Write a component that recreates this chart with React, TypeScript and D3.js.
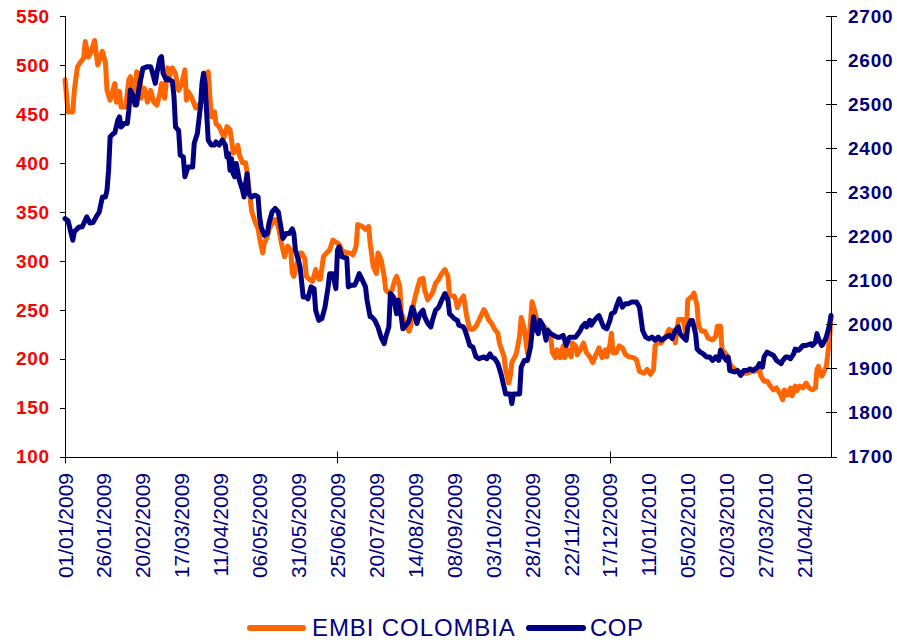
import React from 'react';
import * as d3 from 'd3';

const START_DATE = '01/01/2009';
const END_DAY = 492;

const X_LABELS = [
  '01/01/2009', '26/01/2009', '20/02/2009', '17/03/2009', '11/04/2009', '06/05/2009', '31/05/2009',
  '25/06/2009', '20/07/2009', '14/08/2009', '08/09/2009', '03/10/2009', '28/10/2009', '22/11/2009',
  '17/12/2009', '11/01/2010', '05/02/2010', '02/03/2010', '27/03/2010', '21/04/2010',
];
const X_MAJOR = ['01/01/2009', '25/06/2009', '17/12/2009'];
const LEFT_TICKS = [100, 150, 200, 250, 300, 350, 400, 450, 500, 550];
const RIGHT_TICKS = [1700, 1800, 1900, 2000, 2100, 2200, 2300, 2400, 2500, 2600, 2700];

const SERIES_NAMES = ['EMBI COLOMBIA', 'COP'];

// [day offset from 01/01/2009, EMBI spread]
const EMBI: [number, number][] = [
  [0,485],[2,452],[5,452],[6,474],[8,498],[10,503],[12,507],[13,524],[15,508],[17,514],[19,525],[21,500],[22,505],[24,514],[26,502],[27,474],[29,464],[32,481],[33,462],[35,473],[36,457],[39,457],[41,485],[42,488],[44,475],[45,467],[46,493],[48,491],[49,466],[51,476],[53,462],[55,474],[57,462],[59,459],[61,471],[62,481],[64,466],[66,497],[67,488],[69,497],[71,491],[72,481],[73,474],[75,481],[77,495],[78,464],[79,473],[81,468],[84,456],[86,459],[88,462],[90,491],[92,493],[93,469],[94,447],[96,452],[97,440],[99,437],[101,430],[102,425],[104,437],[106,434],[107,423],[108,410],[110,412],[111,418],[112,408],[114,400],[116,400],[117,390],[119,362],[120,350],[122,340],[124,333],[125,323],[127,308],[128,318],[130,325],[131,332],[133,338],[135,342],[137,335],[139,318],[141,304],[143,315],[145,311],[146,287],[147,284],[149,297],[151,308],[152,308],[154,302],[155,284],[157,281],[159,279],[161,291],[163,281],[164,281],[166,304],[168,308],[170,311],[172,321],[175,318],[176,317],[178,310],[181,308],[183,308],[185,306],[187,315],[188,337],[191,335],[193,332],[195,335],[196,318],[198,294],[200,287],[201,308],[203,301],[205,284],[206,270],[208,267],[210,270],[212,281],[213,284],[215,274],[216,247],[219,233],[221,228],[222,233],[224,257],[226,270],[228,281],[230,282],[231,270],[233,260],[236,267],[238,277],[240,281],[242,287],[244,291],[246,284],[247,264],[250,264],[251,260],[252,252],[253,257],[256,264],[258,243],[260,230],[262,230],[264,233],[267,243],[269,250],[270,248],[272,240],[274,236],[276,230],[278,226],[279,216],[282,202],[283,189],[285,175],[286,182],[287,196],[289,202],[290,206],[292,223],[293,242],[295,230],[297,206],[298,216],[300,258],[301,253],[303,240],[305,235],[307,233],[310,230],[312,223],[313,206],[315,201],[316,209],[318,201],[320,213],[321,201],[323,209],[325,202],[326,216],[328,213],[329,204],[331,209],[333,216],[335,206],[337,202],[339,196],[341,204],[343,211],[345,201],[347,209],[348,202],[350,214],[351,226],[352,206],[354,206],[356,213],[358,211],[360,204],[362,202],[365,201],[367,199],[369,187],[372,185],[374,189],[376,184],[378,189],[379,213],[381,216],[383,216],[386,223],[388,230],[390,228],[392,216],[393,228],[394,240],[397,240],[399,223],[400,260],[403,264],[404,267],[406,254],[407,233],[409,228],[411,228],[413,221],[416,219],[418,223],[419,233],[421,233],[422,209],[424,206],[426,199],[428,192],[432,187],[435,185],[438,185],[441,187],[443,187],[446,189],[447,182],[449,177],[451,177],[453,172],[455,168],[457,170],[460,162],[461,158],[462,168],[464,163],[466,170],[467,162],[469,172],[470,167],[472,172],[474,170],[476,175],[478,170],[480,168],[482,170],[483,189],[484,192],[486,182],[487,185],[489,192],[491,219],[492,243],
];

// [day offset from 01/01/2009, COP per USD]
const COP: [number, number][] = [
  [0,2240],[2,2235],[5,2191],[6,2210],[9,2221],[11,2221],[14,2244],[16,2230],[18,2231],[20,2244],[22,2255],[24,2289],[26,2289],[27,2305],[28,2350],[29,2426],[31,2433],[32,2435],[34,2464],[35,2471],[36,2448],[38,2456],[40,2456],[41,2486],[42,2532],[44,2517],[45,2498],[46,2498],[48,2547],[49,2562],[50,2581],[53,2585],[55,2585],[56,2574],[58,2547],[59,2570],[61,2604],[62,2608],[63,2570],[65,2555],[66,2558],[69,2551],[70,2517],[71,2448],[73,2440],[74,2384],[76,2380],[77,2335],[79,2357],[80,2357],[82,2357],[83,2411],[85,2433],[86,2464],[87,2494],[88,2547],[89,2570],[90,2547],[91,2479],[92,2418],[94,2407],[96,2407],[97,2414],[99,2407],[101,2418],[103,2407],[104,2380],[105,2388],[106,2350],[107,2376],[108,2342],[109,2335],[110,2365],[112,2327],[114,2305],[115,2289],[116,2320],[117,2342],[118,2297],[120,2289],[122,2293],[124,2289],[125,2244],[126,2221],[128,2202],[130,2206],[131,2229],[133,2255],[135,2263],[137,2255],[139,2214],[140,2195],[142,2206],[144,2206],[146,2217],[147,2206],[148,2168],[150,2145],[151,2130],[153,2062],[155,2062],[156,2058],[158,2085],[160,2081],[161,2032],[163,2009],[165,2013],[167,2039],[169,2085],[170,2115],[172,2115],[174,2081],[175,2168],[176,2176],[178,2153],[181,2150],[182,2085],[184,2089],[186,2089],[187,2096],[189,2115],[190,2108],[193,2085],[194,2055],[196,2017],[197,2017],[199,2009],[201,1994],[203,1971],[205,1956],[206,1971],[208,1994],[209,2070],[211,2062],[213,2024],[214,2055],[216,2017],[217,1990],[220,2002],[221,2009],[223,2039],[224,2032],[226,2002],[228,2024],[230,2032],[231,2017],[233,2002],[235,1994],[236,2009],[238,2032],[240,2039],[242,2055],[244,2070],[246,2055],[247,2024],[250,2013],[252,2009],[253,1998],[256,1994],[257,1986],[259,1964],[260,1952],[262,1948],[264,1926],[266,1922],[269,1926],[271,1922],[273,1933],[274,1926],[276,1922],[278,1911],[280,1888],[282,1858],[283,1842],[286,1842],[287,1820],[288,1842],[290,1842],[292,1842],[293,1903],[295,1918],[297,1918],[299,1948],[301,2017],[302,1994],[304,1979],[305,2009],[307,1998],[309,1964],[310,1986],[312,1979],[314,1975],[316,1971],[318,1971],[320,1975],[322,1952],[324,1971],[326,1971],[328,1971],[331,1986],[332,1994],[334,2002],[335,1994],[337,2009],[338,1998],[340,2009],[342,2017],[343,2020],[345,2002],[346,1994],[348,1990],[350,2009],[351,2024],[353,2028],[354,2039],[356,2058],[358,2039],[360,2047],[362,2047],[364,2051],[367,2051],[369,2039],[371,1986],[373,1971],[375,1967],[377,1971],[379,1964],[381,1971],[383,1964],[386,1971],[388,1975],[390,1968],[392,1986],[394,1994],[395,1979],[397,1971],[399,1964],[400,1994],[402,2009],[403,2009],[405,1979],[406,1944],[408,1937],[410,1933],[412,1926],[414,1926],[416,1918],[418,1926],[420,1918],[421,1941],[423,1926],[425,1918],[426,1926],[427,1895],[430,1892],[432,1895],[434,1884],[436,1895],[438,1895],[440,1899],[442,1895],[445,1903],[446,1911],[448,1903],[449,1926],[451,1937],[453,1933],[455,1930],[457,1918],[460,1911],[461,1918],[463,1926],[464,1926],[466,1922],[468,1933],[469,1944],[471,1941],[472,1944],[474,1952],[476,1952],[479,1956],[480,1952],[482,1960],[483,1979],[484,1967],[486,1952],[487,1956],[489,1971],[491,1998],[492,2020],
];

const ORANGE = '#FF6600';
const NAVY = '#000080';
const FONT = '"Liberation Sans", Arial, Helvetica, sans-serif';

export default function App() {
  const parse = d3.utcParse('%d/%m/%Y');
  const t0 = parse(START_DATE) as Date;
  const left = 65, right = 831, top = 16, bottom = 456.5;

  const x = d3.scaleUtc().domain([t0, d3.utcDay.offset(t0, END_DAY)]).range([left, right]);
  const yL = d3.scaleLinear().domain([100, 550]).range([bottom, top]);
  const yR = d3.scaleLinear().domain([1700, 2700]).range([bottom, top]);

  const lineL = d3.line<[number, number]>()
    .x(d => x(d3.utcDay.offset(t0, d[0])))
    .y(d => yL(d[1]));
  const lineR = d3.line<[number, number]>()
    .x(d => x(d3.utcDay.offset(t0, d[0])))
    .y(d => yR(d[1]));

  const axisY = Math.round(bottom) + 0.5;

  return (
    <svg width={897} height={640} style={{ position: 'absolute', left: 0, top: 0, background: '#fff' }}
      fontFamily={FONT}>
      <rect x={0} y={0} width={897} height={640} fill="#fff" />
      {/* data lines */}
      <path d={lineL(EMBI) || ''} fill="none" stroke={ORANGE} strokeWidth={5} strokeLinejoin="round" strokeLinecap="round" />
      <path d={lineR(COP) || ''} fill="none" stroke={NAVY} strokeWidth={5} strokeLinejoin="round" strokeLinecap="round" />

      {/* left axis */}
      <line x1={left + 0.5} x2={left + 0.5} y1={top} y2={axisY} stroke="#000" strokeWidth={1} />
      {LEFT_TICKS.map(t => (
        <g key={'l' + t}>
          <line x1={left - 5} x2={left + 0.5} y1={Math.round(yL(t)) + 0.5} y2={Math.round(yL(t)) + 0.5} stroke="#000" />
          <text x={50} y={yL(t)} dy="0.36em" textAnchor="end" fill="#FF0000" fontWeight="bold"
            fontSize={19} letterSpacing={0.8}>{t}</text>
        </g>
      ))}

      {/* right axis */}
      <line x1={right + 0.5} x2={right + 0.5} y1={top} y2={axisY} stroke="#000" strokeWidth={1} />
      {RIGHT_TICKS.map(t => (
        <g key={'r' + t}>
          <line x1={right - 5} x2={right + 6} y1={Math.round(yR(t)) + 0.5} y2={Math.round(yR(t)) + 0.5} stroke="#000" />
          <text x={848} y={yR(t)} dy="0.36em" textAnchor="start" fill={NAVY} fontWeight="bold"
            fontSize={19} letterSpacing={0.8}>{t}</text>
        </g>
      ))}

      {/* bottom axis */}
      <line x1={left} x2={right + 0.5} y1={axisY} y2={axisY} stroke="#000" />
      {X_MAJOR.map(s => {
        const px = Math.round(x(parse(s) as Date)) + 0.5;
        return <line key={'m' + s} x1={px} x2={px} y1={axisY - 6} y2={axisY + 6} stroke="#000" />;
      })}
      {X_LABELS.map(s => {
        const px = x(parse(s) as Date);
        return (
          <text key={'x' + s} transform={`translate(${px},473) rotate(-90)`} textAnchor="end" dy="0.36em"
            fill={NAVY} fontSize={21}>{s}</text>
        );
      })}

      {/* legend */}
      <line x1={250} x2={303} y1={628} y2={628} stroke={ORANGE} strokeWidth={6} strokeLinecap="round" />
      <text x={312} y={635.5} fill={NAVY} fontSize={24} letterSpacing={0.9}>{SERIES_NAMES[0]}</text>
      <line x1={529} x2={583} y1={628} y2={628} stroke={NAVY} strokeWidth={6} strokeLinecap="round" />
      <text x={590} y={635.5} fill={NAVY} fontSize={24} letterSpacing={0.5}>{SERIES_NAMES[1]}</text>
    </svg>
  );
}
